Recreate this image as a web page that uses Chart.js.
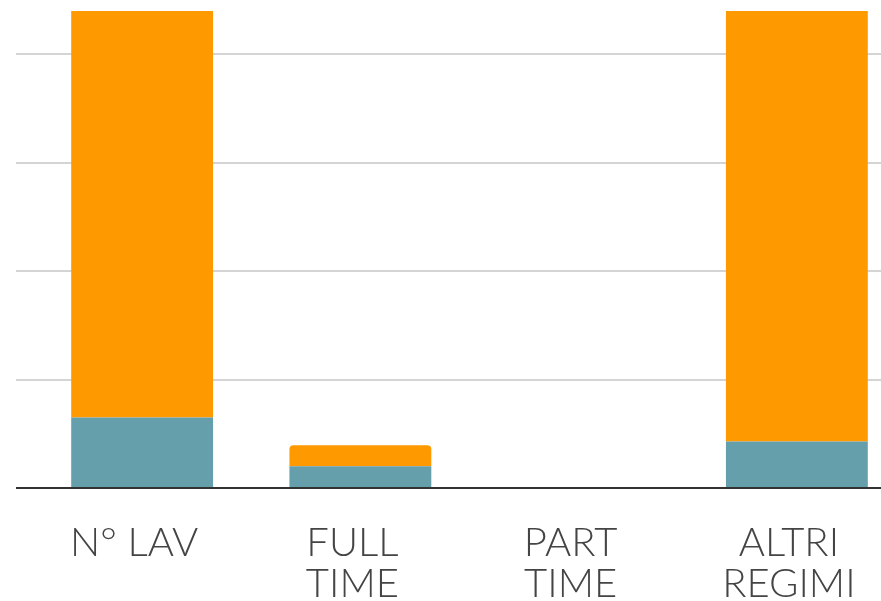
<!DOCTYPE html>
<html>
<head>
<meta charset="utf-8">
<script src="https://cdn.jsdelivr.net/npm/chart.js@4/dist/chart.umd.min.js"></script>
<style>
	html, body { margin: 0; padding: 0; background: #fff; overflow: hidden; }
	#wrap { position: relative; width: 910px; height: 601px; }
</style>
</head>
<body>
<div id="wrap"><canvas id="mycanvas"></canvas></div>
<script>
var categories = [['N° LAV'], ['FULL', 'TIME'], ['PART', 'TIME'], ['ALTRI', 'REGIMI']];
var seriesNames = ['Serie 1', 'Serie 2'];
var lowerValues = [6.5, 2.0, 0, 4.3];
var upperValues = [57.5, 1.95, 0, 55.7];
var yMax = 44;
var yStep = 10;

/* Bar graph Attributes */
var chartdata = {
	labels: categories,
	datasets: [
		{
			label: seriesNames[0],
			backgroundColor: '#669fac',
			data: lowerValues,
			categoryPercentage: 1,
			barPercentage: 0.65
		},
		{
			label: seriesNames[1],
			backgroundColor: '#ff9900',
			borderRadius: 4,
			data: upperValues,
			categoryPercentage: 1,
			barPercentage: 0.65
		}
	]
};

var ctx = document.getElementById('mycanvas');

var barGraph = new Chart(ctx, {
	type: 'bar',
	data: chartdata,
	options: {
		responsive: true,
		maintainAspectRatio: false,
		animation: false,
		layout: { padding: { left: 16, top: 11, right: 4, bottom: 0 } },
		plugins: {
			legend: { display: false },
			tooltip: { enabled: false }
		},
		scales: {
			x: {
				stacked: true,
				grid: { display: false },
				border: { display: true, color: '#333', width: 2 },
				ticks: {
					color: '#444',
					padding: 27,
					maxRotation: 0,
					autoSkip: false,
					labelOffset: -8,
					font: { family: '"Lato Light", Lato', weight: 300, size: 40, lineHeight: 1.02 }
				},
				afterFit: function(scale) { scale.height = 113; }
			},
			y: {
				stacked: true,
				min: 0,
				max: yMax,
				border: { display: false },
				ticks: { display: false, stepSize: yStep },
				grid: {
					drawTicks: true,
					tickLength: 17,
					color: function(c) {
						if (c.tick.value === 0) return '#333';
						return c.tick.value % yStep === 0 ? '#d4d4d4' : 'rgba(0,0,0,0)';
					},
					lineWidth: 2
				},
				afterFit: function(scale) { scale.width = 17; }
			}
		}
	}
});
</script>
</body>
</html>
